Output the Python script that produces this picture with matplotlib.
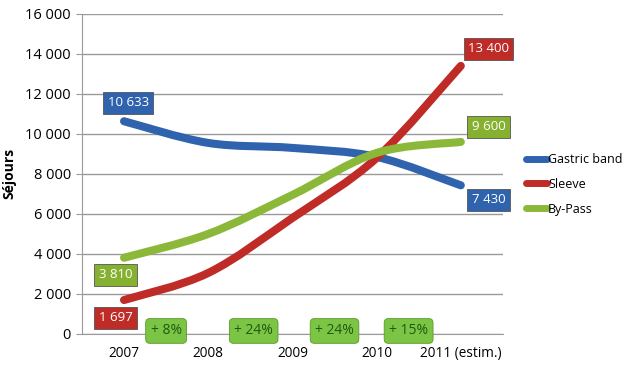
import matplotlib
matplotlib.use("Agg")
import matplotlib.pyplot as plt
import numpy as np
from matplotlib.path import Path
from matplotlib.patches import PathPatch
from matplotlib.lines import Line2D
from matplotlib.ticker import FuncFormatter, MultipleLocator

plt.rcParams["font.family"] = ["Open Sans", "DejaVu Sans"]

years = ["2007", "2008", "2009", "2010", "2011 (estim.)"]
gastric_band = [10633, 9550, 9300, 8850, 7430]
sleeve = [1697, 3050, 5800, 8800, 13400]
by_pass = [3810, 5000, 6950, 9050, 9600]
growth = ["+ 8%", "+ 24%", "+ 24%", "+ 15%"]
growth_x = [0.5, 1.54, 2.5, 3.38]

BLUE = "#2f63ae"
RED = "#bf2b27"
GREEN = "#8cb83a"


def smooth_path(xs, ys):
    # Excel-like smoothed line: Catmull-Rom turned into cubic Bezier pieces
    pts = np.column_stack([xs, ys]).astype(float)
    ext = np.vstack([pts[0], pts, pts[-1]])
    verts = [pts[0]]
    codes = [Path.MOVETO]
    for i in range(len(pts) - 1):
        p0, p1, p2, p3 = ext[i], ext[i + 1], ext[i + 2], ext[i + 3]
        c1 = p1 + (p2 - p0) / 6.0
        c2 = p2 - (p3 - p1) / 6.0
        verts += [c1, c2, p2]
        codes += [Path.CURVE4] * 3
    return Path(verts, codes)


fig = plt.figure(figsize=(6.35, 3.65), dpi=100)
ax = fig.add_axes([0.129, 0.085, 0.663, 0.877])
x = np.arange(len(years))

series = [("Gastric band", gastric_band, BLUE),
          ("Sleeve", sleeve, RED),
          ("By-Pass", by_pass, GREEN)]
for name, vals, col in series:
    patch = PathPatch(smooth_path(x, vals), facecolor="none", edgecolor=col,
                      lw=5.8, capstyle="round", zorder=3)
    ax.add_patch(patch)

ax.set_xlim(-0.5, 4.5)
ax.set_ylim(0, 16000)
ax.yaxis.set_major_locator(MultipleLocator(2000))
ax.yaxis.set_major_formatter(FuncFormatter(lambda v, p: f"{int(v):,}".replace(",", " ")))
ax.set_xticks(x)
ax.set_xticklabels(years)
ax.grid(axis="y", color="#9a9a9a", lw=1.0)
ax.set_axisbelow(True)
for s in ["top", "right"]:
    ax.spines[s].set_visible(False)
ax.spines["left"].set_color("#9a9a9a")
ax.spines["bottom"].set_color("#9a9a9a")
ax.tick_params(axis="y", length=4, color="#9a9a9a", labelsize=10.5, pad=4)
ax.tick_params(axis="x", length=0, labelsize=9.8, pad=9)
ax.set_ylabel("Séjours", fontsize=10, fontweight="bold", labelpad=6)


def value_box(xp, yp, txt, col):
    ax.text(xp, yp, txt, ha="center", va="center", color="white", fontsize=9.5,
            zorder=6, bbox=dict(boxstyle="square,pad=0.33", fc=col, ec="#555555", lw=0.6))


def fmt(v):
    return f"{v:,}".replace(",", " ")


value_box(0.05, 11550, fmt(gastric_band[0]), BLUE)
value_box(-0.1, 2950, fmt(by_pass[0]), "#86b030")
value_box(-0.1, 800, fmt(sleeve[0]), RED)
value_box(4.33, 14250, fmt(sleeve[-1]), RED)
value_box(4.33, 10350, fmt(by_pass[-1]), "#86b030")
value_box(4.33, 6700, fmt(gastric_band[-1]), BLUE)

for gx, g in zip(growth_x, growth):
    ax.text(gx, 150, g, ha="center", va="center", color="#1f5a14", fontsize=10,
            zorder=6, bbox=dict(boxstyle="round,pad=0.35,rounding_size=0.3",
                                fc="#7cc444", ec="#5a9a2a", lw=0.6))

handles = [Line2D([0], [0], color=c, lw=5, solid_capstyle="round") for _, _, c in series]
fig.legend(handles, [n for n, _, _ in series], loc="center left",
           bbox_to_anchor=(0.81, 0.495), frameon=False, fontsize=9,
           handlelength=1.7, handletextpad=0.1, labelspacing=0.95)

fig.savefig("out.png", dpi=100, facecolor="white")
